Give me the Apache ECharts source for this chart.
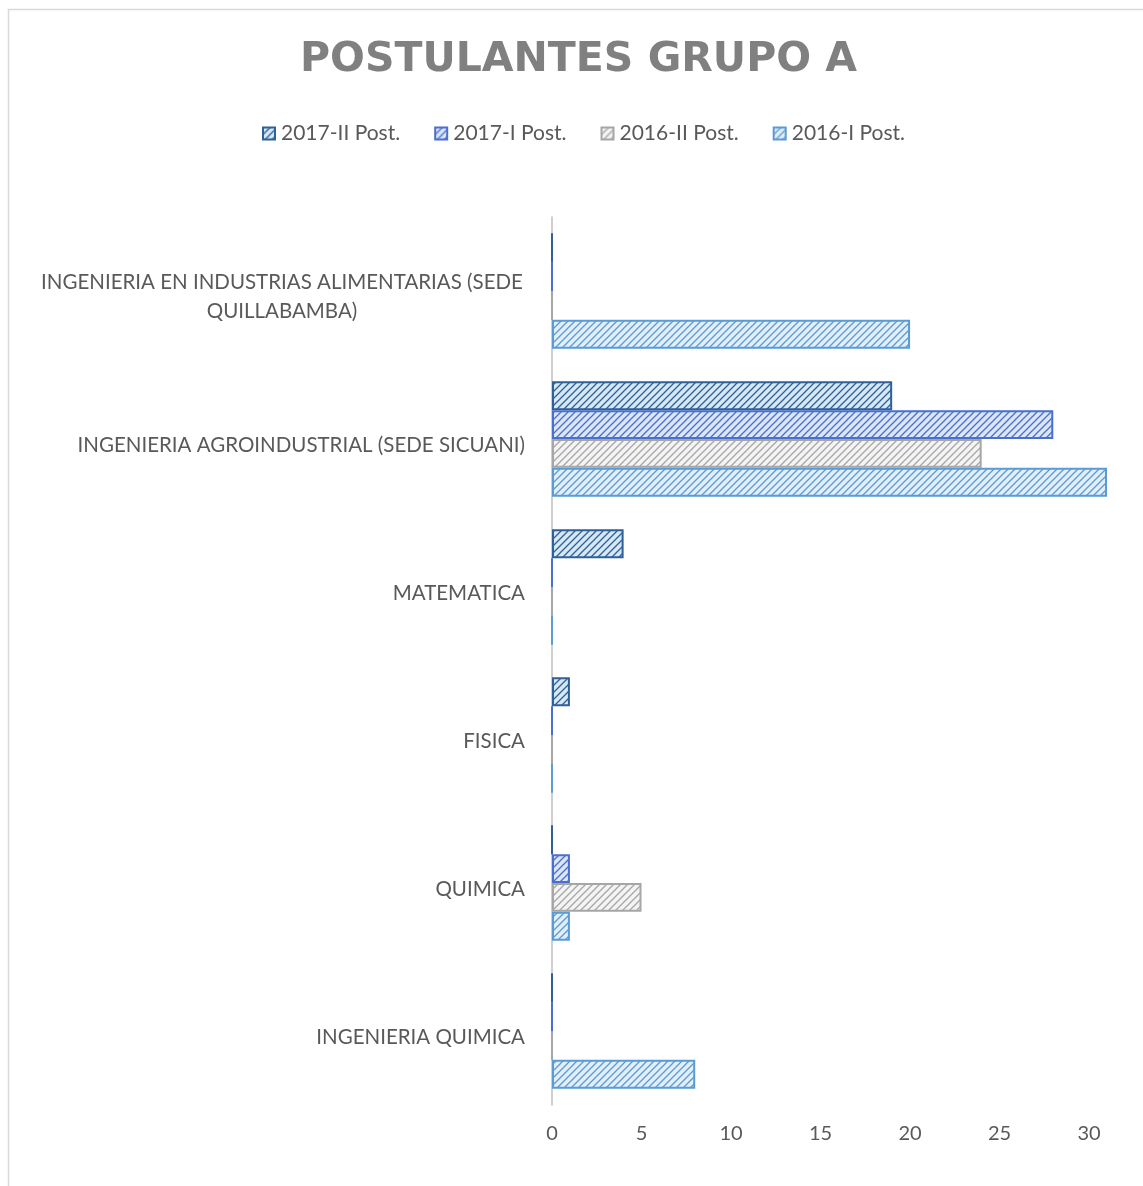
<!DOCTYPE html>
<html>
<head>
<meta charset="utf-8">
<script src="https://cdn.jsdelivr.net/npm/echarts@6/dist/echarts.min.js"></script>
<style>
  html, body { margin: 0; padding: 0; background: #fff; }
  #chart { width: 1143px; height: 1186px; }
</style>
</head>
<body>
<div id="chart"></div>
<script>
// categories, top to bottom as drawn
var categories = [
    'INGENIERIA EN INDUSTRIAS ALIMENTARIAS (SEDE QUILLABAMBA)',
    'INGENIERIA AGROINDUSTRIAL (SEDE SICUANI)',
    'MATEMATICA',
    'FISICA',
    'QUIMICA',
    'INGENIERIA QUIMICA'
];
var seriesNames = ['2017-II Post.', '2017-I Post.', '2016-II Post.', '2016-I Post.'];
var post2017II = [0, 19, 4, 1, 0, 0];
var post2017I = [0, 28, 0, 0, 1, 0];
var post2016II = [0, 24, 0, 0, 5, 0];
var post2016I = [20, 31, 0, 0, 1, 8];
var xTicks = [0, 5, 10, 15, 20, 25, 30];

// hatch pattern: light fill with "/" stripes
function hatch(bg, fg)
{
    var s = 7;
    var c = document.createElement('canvas');
    c.width = s;
    c.height = s;
    var ctx = c.getContext('2d');
    ctx.fillStyle = bg;
    ctx.fillRect(0, 0, s, s);
    ctx.strokeStyle = fg;
    ctx.lineWidth = 1.3;
    ctx.beginPath();
    ctx.moveTo(-1, s + 1); ctx.lineTo(s + 1, -1);
    ctx.moveTo(-1, 1); ctx.lineTo(1, -1);
    ctx.moveTo(s - 1, s + 1); ctx.lineTo(s + 1, s - 1);
    ctx.stroke();
    return { image: c, repeat: 'repeat' };
}

var styles = [
    { border: '#2f6198', fill: hatch('#d6e7f6', '#2f6198') },
    { border: '#4a6fcf', fill: hatch('#dbe6f8', '#4a6fcf') },
    { border: '#a6a6a6', fill: hatch('#f4f4f4', '#a6a6a6') },
    { border: '#5b9bd5', fill: hatch('#e2eefa', '#5b9bd5') }
];
var values = [post2017II, post2017I, post2016II, post2016I];

var font = 'Lato';
var myChart = echarts.init(document.getElementById('chart'));

var series = [];
for (var i = 0; i < seriesNames.length; i++) {
    series.push({
        name: seriesNames[i],
        type: 'bar',
        barGap: '0%',
        barCategoryGap: '22%',
        data: values[i],
        itemStyle: {
            color: styles[i].fill,
            borderColor: styles[i].border,
            borderWidth: 2
        }
    });
}

option = {
    animation: false,
    backgroundColor: '#fff',
    graphic: [{
        type: 'rect',
        shape: { x: 8.5, y: 9.5, width: 1145, height: 1190 },
        style: { fill: 'none', stroke: '#d9d9d9', lineWidth: 1.5 },
        silent: true
    }],
    title: {
        text: 'POSTULANTES GRUPO A',
        left: 295,
        top: 35,
        textStyle: {
            fontFamily: 'DejaVu Sans',
            fontWeight: 'bold',
            fontSize: 41,
            color: '#808080'
        }
    },
    legend: {
        top: 118,
        left: 257,
        icon: 'rect',
        itemWidth: 12,
        itemHeight: 12,
        itemGap: 34,
        data: seriesNames,
        textStyle: { fontFamily: font, fontSize: 21, color: '#595959', padding: [0, 0, 0, 1] }
    },
    grid: {
        left: 552,
        right: 36,
        top: 217,
        bottom: 81,
        containLabel: false
    },
    xAxis: {
        type: 'value',
        min: 0,
        max: 31,
        interval: 5,
        splitLine: { show: false },
        axisLine: { show: false },
        axisTick: { show: false },
        axisLabel: {
            margin: 19,
            showMaxLabel: false,
            fontFamily: font,
            fontSize: 20,
            color: '#595959',
            formatter: function (v)
            {
                return xTicks.indexOf(v) >= 0 ? String(v) : '';
            }
        }
    },
    yAxis: {
        type: 'category',
        inverse: true,
        data: categories,
        axisLine: { show: true, lineStyle: { color: '#bfbfbf', width: 1.5 } },
        axisTick: { show: false },
        axisLabel: {
            margin: 27,
            fontFamily: font,
            fontSize: 20.5,
            color: '#595959',
            lineHeight: 29,
            padding: [12, 0, 0, 0],
            formatter: function (v)
            {
                if (v.length > 45) {
                    var cut = v.lastIndexOf(' ', 45);
                    return '{c|' + v.slice(0, cut) + '}\n{c|' + v.slice(cut + 1) + '}';
                }
                return v;
            },
            rich: {
                c: {
                    width: 486,
                    align: 'center',
                    fontFamily: font,
                    fontSize: 20.5,
                    color: '#595959',
                    lineHeight: 29
                }
            }
        }
    },
    series: series
};

myChart.setOption(option);
</script>
</body>
</html>
